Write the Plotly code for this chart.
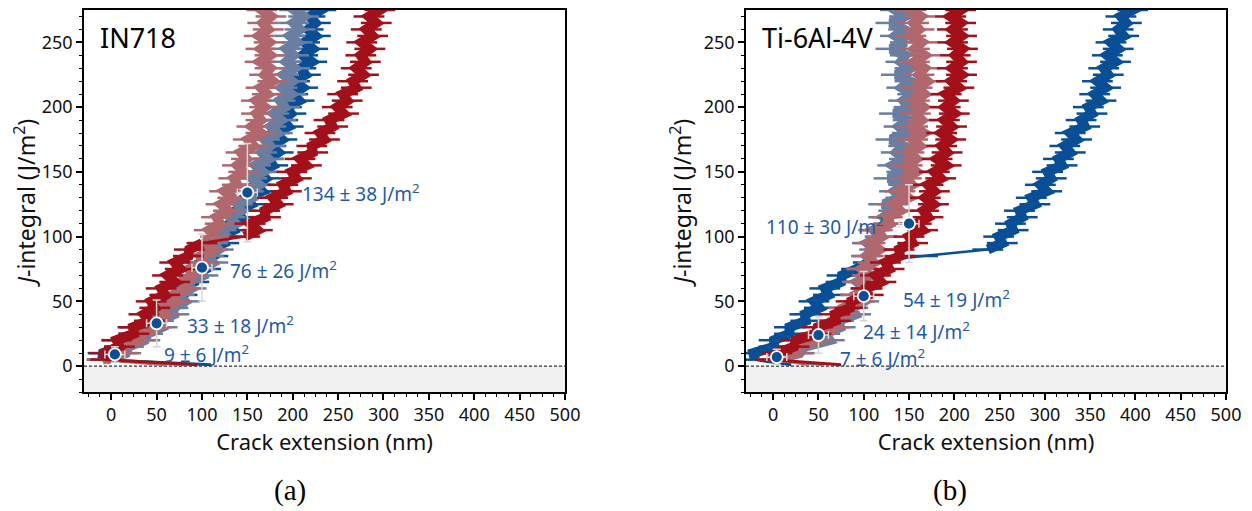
import plotly.graph_objects as go

# ---------------- data ----------------
J_LEVELS = [5, 10, 15, 20, 25, 30, 35, 40, 45, 50, 55, 60, 65, 70, 75, 80, 85, 90, 95, 100,
            105, 110, 115, 120, 125, 130, 135, 140, 145, 150, 155, 160, 165, 170, 175, 180,
            185, 190, 195, 200, 205, 210, 215, 220, 225, 230, 235, 240, 245, 250, 255, 260,
            265, 270, 275, 280]

# IN718 crack extension (nm) at each J level
in718_blue = [-10, -9, 9, 7, 25, 26, 46, 49, 67, 63, 78, 74, 91, 90, 104, 99, 112, 107, 124, 120,
              135, 131, 143, 138, 154, 149, 166, 159, 170, 164, 178, 173, 184, 176, 188, 180,
              195, 189, 198, 193, 207, 200, 211, 202, 214, 209, 221, 211, 222, 213, 225, 217,
              225, 219, 231, 222]
in718_grayblue = [-6, 16, 19, 37, 40, 56, 52, 69, 68, 81, 75, 88, 83, 101, 98, 112, 107, 118, 112, 127,
                  121, 137, 131, 143, 139, 155, 151, 163, 155, 167, 159, 173, 166, 175, 169, 183,
                  176, 187, 179, 191, 186, 198, 188, 199, 190, 202, 193, 201, 193, 205, 197, 208,
                  201, 212, 202, 211]
in718_rose = [-10, 12, 12, 32, 33, 50, 47, 60, 55, 72, 68, 83, 77, 89, 86, 102, 98, 112, 103, 115,
              108, 120, 116, 129, 121, 134, 125, 139, 135, 146, 139, 149, 143, 157, 151, 165,
              155, 165, 160, 169, 160, 172, 165, 178, 169, 175, 164, 175, 165, 174, 163, 173,
              167, 176, 166, 177]
in718_red = [-6, -7, 9, 6, 25, 24, 42, 36, 48, 44, 59, 55, 70, 62, 76, 70, 85, 86, 100, 147,
             161, 153, 170, 169, 184, 178, 193, 189, 204, 199, 215, 208, 222, 221, 235, 230,
             244, 240, 256, 249, 260, 255, 270, 266, 278, 270, 280, 275, 285, 276, 288, 281,
             292, 284, 296, 290]

# Ti-6Al-4V crack extension (nm) at each J level
ti_blue = [-20, -22, 1, 1, 18, 18, 36, 35, 51, 45, 61, 57, 75, 76, 92, 105, 165, 237, 253, 249,
           265, 262, 275, 272, 289, 285, 302, 295, 307, 303, 319, 315, 328, 322, 335, 328,
           344, 340, 352, 348, 362, 355, 367, 358, 370, 365, 378, 369, 381, 373, 387, 381,
           390, 384, 397, 389]
ti_grayblue = [-1, 29, 35, 62, 57, 74, 72, 91, 88, 100, 92, 102, 93, 106, 98, 110, 103, 112, 104, 118,
               111, 127, 122, 133, 122, 141, 134, 144, 128, 142, 132, 145, 136, 144, 130, 148,
               139, 149, 134, 150, 144, 154, 142, 151, 136, 151, 141, 146, 130, 146, 135, 144,
               130, 145, 135, 143]
ti_rose = [3, 26, 26, 50, 52, 68, 66, 81, 78, 95, 91, 104, 95, 104, 98, 111, 105, 117, 107, 120,
           115, 129, 126, 140, 133, 149, 140, 153, 147, 158, 148, 158, 150, 162, 154, 166,
           154, 164, 157, 166, 156, 167, 159, 170, 161, 167, 156, 167, 156, 164, 152, 161,
           155, 163, 152, 162]
ti_red = [-2, 4, 23, 25, 47, 49, 69, 68, 85, 86, 105, 103, 119, 113, 128, 124, 140, 139, 154, 150,
          165, 158, 171, 166, 177, 168, 178, 171, 185, 178, 191, 181, 192, 186, 196, 186,
          197, 189, 200, 190, 199, 191, 205, 197, 208, 198, 208, 201, 209, 198, 208, 198,
          207, 196, 207, 199]

# start tails (crack extension at J ~ 1) for each curve
TAIL_J = 1
in718_tails = [110, 80, 60, 95]   # blue, grayblue, rose, red
ti_tails = [20, 55, 40, 75]

# mean points with error bars
in718_pts_x = [4, 50, 100, 150]
in718_pts_J = [9, 33, 76, 134]
in718_pts_err = [6, 18, 26, 38]
ti_pts_x = [4, 50, 100, 150]
ti_pts_J = [7, 24, 54, 110]
ti_pts_err = [6, 14, 19, 30]
pts_xerr = [11, 11, 11, 11]

in718_labels = ["9 ± 6 J/m<sup>2</sup>", "33 ± 18 J/m<sup>2</sup>",
                "76 ± 26 J/m<sup>2</sup>", "134 ± 38 J/m<sup>2</sup>"]
in718_label_x = [56, 81, 129, 208]
in718_label_J = [9, 32, 74, 134]
ti_labels = ["7 ± 6 J/m<sup>2</sup>", "24 ± 14 J/m<sup>2</sup>",
             "54 ± 19 J/m<sup>2</sup>", "110 ± 30 J/m<sup>2</sup>"]
ti_label_x = [72, 97, 141, -10]
ti_label_J = [6, 27, 52, 108]

# ---------------- styling ----------------
COLORS = ["#0a4e96", "#6a7ea2", "#b0686e", "#a3101a"]
TEXT_BLUE = "#1f5aa6"
FONT = "Noto Sans"
LW = 10
JUMP = 40          # nm; larger steps between levels are drawn as thin connectors
W, H = 1244, 503   # page body has an 8 px margin
OFF = 8


def px_x(p):
    return (p - OFF) / W


def px_y(p):
    return 1 - (p - OFF) / H


def split_runs(xs, js):
    """Split a curve into thick runs, separated where it jumps sideways."""
    runs, jumps = [[(xs[0], js[0])]], []
    for i in range(1, len(xs)):
        if abs(xs[i] - xs[i - 1]) > JUMP:
            jumps.append(((xs[i - 1], js[i - 1]), (xs[i], js[i])))
            runs.append([(xs[i], js[i])])
        else:
            runs[-1].append((xs[i], js[i]))
    return runs, jumps


fig = go.Figure()

panels = [
    ("x", "y", [in718_blue, in718_grayblue, in718_rose, in718_red], in718_tails,
     in718_pts_x, in718_pts_J, in718_pts_err, in718_labels, in718_label_x, in718_label_J),
    ("x2", "y2", [ti_blue, ti_grayblue, ti_rose, ti_red], ti_tails,
     ti_pts_x, ti_pts_J, ti_pts_err, ti_labels, ti_label_x, ti_label_J),
]

annotations = []
shapes = []
for xa, ya, curves, tails, px_, pJ, perr, labs, lx, lJ in panels:
    dom = "x domain" if xa == "x" else "x2 domain"
    shapes.append(dict(type="rect", xref=dom, yref=ya, x0=0, x1=1, y0=-20, y1=0,
                       fillcolor="#f0f0f0", line=dict(width=0), layer="below"))
    shapes.append(dict(type="line", xref=dom, yref=ya, x0=0, x1=1, y0=0, y1=0,
                       line=dict(color="black", width=1, dash="3px,2px"), layer="below"))
    for curve, tail, col in zip(curves, tails, COLORS):
        fig.add_trace(go.Scatter(x=[tail, curve[0]], y=[TAIL_J, J_LEVELS[0]], mode="lines",
                                 line=dict(color=col, width=3), xaxis=xa, yaxis=ya,
                                 hoverinfo="skip", showlegend=False))
        runs, jumps = split_runs(curve, J_LEVELS)
        for (a, b) in jumps:
            fig.add_trace(go.Scatter(x=[a[0], b[0]], y=[a[1], b[1]], mode="lines",
                                     line=dict(color=col, width=2.5), xaxis=xa, yaxis=ya,
                                     hoverinfo="skip", showlegend=False))
        for run in runs:
            fig.add_trace(go.Scatter(
                x=[p[0] for p in run], y=[p[1] for p in run], mode="lines+markers",
                line=dict(color=col, width=LW),
                marker=dict(symbol="line-ew", size=22, color=col,
                            line=dict(color=col, width=2.5)),
                xaxis=xa, yaxis=ya, hoverinfo="skip", showlegend=False))
    fig.add_trace(go.Scatter(
        x=px_, y=pJ, mode="markers", xaxis=xa, yaxis=ya, showlegend=False,
        marker=dict(size=12, color="#0d4f97", line=dict(color="white", width=1.8)),
        error_y=dict(type="data", array=perr, color="#d6d6d6", thickness=1.5, width=4),
        error_x=dict(type="data", array=pts_xerr, color="#d6d6d6", thickness=1.5, width=4),
    ))
    for t, x0, y0 in zip(labs, lx, lJ):
        annotations.append(dict(x=x0, y=y0, xref=xa, yref=ya, text=t, showarrow=False,
                                xanchor="left", yanchor="middle",
                                font=dict(family=FONT, size=19, color=TEXT_BLUE)))

annotations.append(dict(x=-15, y=254, xref="x", yref="y", text="IN718", showarrow=False,
                        xanchor="left", yanchor="middle",
                        font=dict(family=FONT, size=27, color="black")))
annotations.append(dict(x=-14, y=254, xref="x2", yref="y2", text="Ti-6Al-4V", showarrow=False,
                        xanchor="left", yanchor="middle",
                        font=dict(family=FONT, size=27, color="black")))
annotations.append(dict(x=px_x(290), y=px_y(490), xref="paper", yref="paper", text="(a)",
                        showarrow=False, xanchor="center", yanchor="middle",
                        font=dict(family="Liberation Serif", size=29, color="black")))
annotations.append(dict(x=px_x(950), y=px_y(490), xref="paper", yref="paper", text="(b)",
                        showarrow=False, xanchor="center", yanchor="middle",
                        font=dict(family="Liberation Serif", size=29, color="black")))

xaxis_common = dict(range=[-30, 500], tickmode="array", automargin=False,
                    tickvals=[0, 50, 100, 150, 200, 250, 300, 350, 400, 450, 500],
                    ticks="outside", ticklen=6, tickwidth=1.5, tickcolor="black",
                    minor=dict(dtick=12.5, tick0=0, ticks="outside", ticklen=3,
                               tickwidth=1.2, tickcolor="black"),
                    showline=True, linecolor="black", linewidth=1.5, mirror=True,
                    showgrid=False, zeroline=False,
                    tickfont=dict(family=FONT, size=18, color="#111"),
                    title=dict(text="Crack extension (nm)", standoff=4,
                               font=dict(family=FONT, size=22, color="#111")))
yaxis_common = dict(range=[-20, 275], tickmode="array", tickvals=[0, 50, 100, 150, 200, 250],
                    automargin=False,
                    ticks="outside", ticklen=6, tickwidth=1.5, tickcolor="black",
                    minor=dict(dtick=10, tick0=0, ticks="outside", ticklen=3,
                               tickwidth=1.2, tickcolor="black"),
                    showline=True, linecolor="black", linewidth=1.5, mirror=True,
                    showgrid=False, zeroline=False,
                    tickfont=dict(family=FONT, size=18, color="#111"),
                    title=dict(text="<i>J</i>-integral (J/m<sup>2</sup>)", standoff=6,
                               font=dict(family=FONT, size=23, color="#111")))

fig.update_layout(
    width=W, height=H,
    margin=dict(l=0, r=0, t=0, b=0, autoexpand=False),
    paper_bgcolor="white", plot_bgcolor="white",
    showlegend=False,
    xaxis=dict(domain=[px_x(84), px_x(565)], anchor="y", **xaxis_common),
    yaxis=dict(domain=[px_y(392), px_y(10)], anchor="x", **yaxis_common),
    xaxis2=dict(domain=[px_x(746), px_x(1226)], anchor="y2", **xaxis_common),
    yaxis2=dict(domain=[px_y(392), px_y(10)], anchor="x2", **yaxis_common),
    annotations=annotations,
    shapes=shapes,
)

fig.write_html("out.html")
